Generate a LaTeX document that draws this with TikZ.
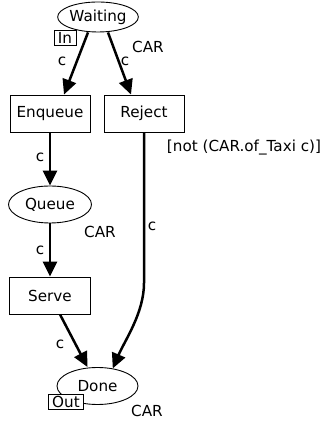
\documentclass[tikz,border=0pt]{standalone}
\usepackage{fontspec}
\setmainfont{DejaVu Sans}
\usetikzlibrary{arrows.meta,shapes.geometric}
\begin{document}
\begin{tikzpicture}[x=1pt,y=1pt,
    font=\fontsize{15.2}{18}\selectfont,
    place/.style={ellipse,draw,line width=0.9pt,inner sep=0pt,minimum width=81pt,minimum height=37pt},
    trans/.style={rectangle,draw,line width=0.9pt,inner sep=0pt,minimum width=80pt,minimum height=37pt},
    port/.style={rectangle,draw,line width=0.8pt,fill=white,inner xsep=4pt,inner ysep=0pt,minimum height=15pt},
    arc/.style={line width=2.5pt,-{Triangle[length=15pt,width=14pt]}},
    lbl/.style={inner sep=0pt}]
  \useasboundingbox (0,0) rectangle (332,422);
  \draw
    (98,405) node[place,minimum width=80pt,minimum height=30pt] (waiting){Waiting}
    (50,308.5) node[trans] (enqueue){Enqueue}
    (144,308.5) node[trans] (reject){Reject}
    (50,217.5) node[place,minimum width=83pt] (queue){Queue}
    (50,126.5) node[trans,minimum width=81pt] (serve){Serve}
    (97.5,36) node[place] (done){Done};
  \node[port] (in) at (65,384.5) {In};
  \node[port] (out) at (66,20) {Out};
  \coordinate (bend) at (144,139);
  % colour sets and guard
  \node[lbl] (wcar) at (148,375) {CAR};
  \node[lbl] (qcar) at (100,190) {CAR};
  \node[lbl] (dcar) at (147,11) {CAR};
  \node[lbl] (guard) at (244,274) {[not (CAR.of\_Taxi c)]};
  % arc inscriptions
  \node[lbl] (c1) at (62,361) {c};
  \node[lbl] (c2) at (125,361) {c};
  \node[lbl] (c3) at (40,265) {c};
  \node[lbl] (c4) at (152,196) {c};
  \node[lbl] (c5) at (40,172) {c};
  \node[lbl] (c6) at (60,78) {c};
  \begin{scope}[arc]
    \draw ([xshift=-10pt]waiting.south) to ([xshift=14pt]enqueue.north);
    \draw ([xshift=10pt]waiting.south) to ([xshift=-13pt]reject.north);
    \draw (enqueue) to (queue);
    \draw (queue) to (serve);
    \draw ([xshift=10pt]serve.south) to ([xshift=-10pt]done.north);
    \draw (reject) -- (bend) .. controls +(0,-30) and +(12,28) .. (done.49);
  \end{scope}
\end{tikzpicture}
\end{document}
